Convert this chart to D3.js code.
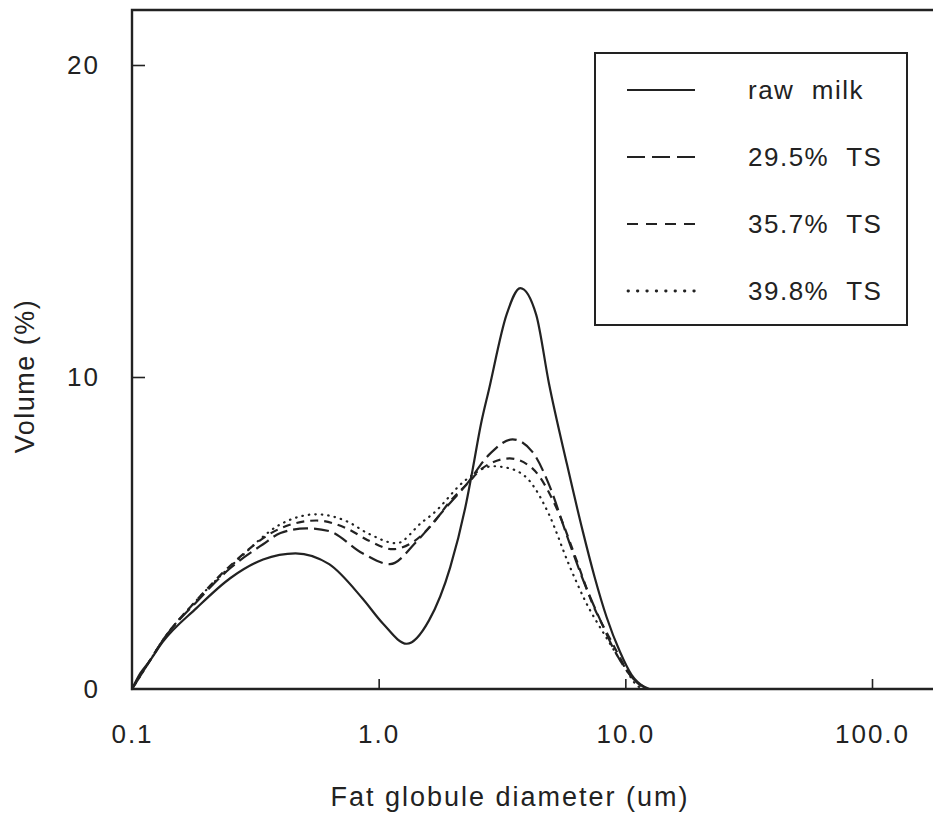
<!DOCTYPE html>
<html lang="en">
<head>
  <meta charset="UTF-8">
  <title>Fat globule size distribution</title>
  <style>
    body {
      margin: 0;
      padding: 0;
      background: #fff;
    }

    svg text {
      font-family: "Liberation Sans", Arial, sans-serif;
      fill: #222;
    }

    .axis text {
      font-size: 26px;
      letter-spacing: 2px;
    }

    .axis line {
      stroke: #222;
      stroke-width: 1.6;
    }

    .frame {
      stroke: #222;
      stroke-width: 2.4;
      fill: none;
    }

    .curve {
      fill: none;
      stroke: #222;
      stroke-width: 2.2;
    }

    .legend text {
      font-size: 26px;
      letter-spacing: 1.5px;
    }
  </style>
</head>
<body>
  <svg id="chart" width="933" height="817"></svg>

  <script src="https://d3js.org/d3.v7.min.js"></script>
  <script>
    // Valores (diâmetro em um, volume em %)
    const rawDiam = [0.1, 0.108, 0.118, 0.133, 0.183, 0.25, 0.34, 0.46, 0.63, 0.86, 1.04, 1.3, 1.6, 1.95, 2.27, 2.4, 2.6, 2.8, 3.3, 3.75, 4.35, 4.9, 5.8, 6.7, 7.5, 8.4, 9.5, 10.6, 12.2];
    const rawVol = [0, 0.5, 0.9, 1.5, 2.6, 3.55, 4.15, 4.35, 4.0, 2.9, 2.1, 1.45, 2.2, 3.9, 6.0, 7.0, 8.5, 9.6, 12.0, 12.85, 12.0, 9.8, 7.2, 5.1, 3.6, 2.3, 1.2, 0.45, 0];

    const ts295Diam = [0.1, 0.118, 0.133, 0.183, 0.25, 0.34, 0.4, 0.51, 0.63, 0.86, 1.11, 1.43, 1.82, 2.27, 2.81, 3.49, 4.2, 4.9, 5.77, 6.7, 7.85, 9.2, 10.7, 12.5];
    const ts295Vol = [0, 0.9, 1.55, 2.8, 3.87, 4.64, 5.0, 5.15, 5.06, 4.35, 4.0, 4.74, 5.7, 6.56, 7.52, 8.0, 7.6, 6.56, 4.96, 3.55, 2.27, 1.12, 0.35, 0];

    const ts357Diam = [0.1, 0.118, 0.133, 0.183, 0.25, 0.4, 0.56, 0.74, 0.92, 1.14, 1.4, 1.65, 1.94, 2.3, 2.63, 3.4, 4.2, 5.26, 6.3, 7.3, 8.9, 10.4, 12.0];
    const ts357Vol = [0, 0.9, 1.55, 2.85, 3.95, 5.15, 5.4, 5.15, 4.74, 4.48, 4.75, 5.28, 6.0, 6.6, 7.07, 7.39, 7.07, 5.8, 4.19, 2.8, 1.44, 0.48, 0];

    const ts398Diam = [0.1, 0.118, 0.133, 0.183, 0.27, 0.4, 0.56, 0.74, 0.92, 1.18, 1.5, 1.65, 2.27, 2.9, 3.4, 4.1, 4.9, 5.9, 6.9, 8.4, 10.0, 11.0, 11.8];
    const ts398Vol = [0, 0.9, 1.55, 2.85, 4.16, 5.28, 5.6, 5.38, 4.96, 4.67, 5.35, 5.6, 6.72, 7.14, 7.07, 6.66, 5.6, 4.0, 2.8, 1.63, 0.67, 0.16, 0];

    const seriesNames = ["raw milk", "29.5% TS", "35.7% TS", "39.8% TS"];
    const xTicks = [0.1, 1, 10, 100];
    const yTicks = [0, 10, 20];

    const series = [
      { name: seriesNames[0], diam: rawDiam, vol: rawVol, dash: null, legendDash: null, cap: "butt" },
      { name: seriesNames[1], diam: ts295Diam, vol: ts295Vol, dash: "15,6", legendDash: "18,7", cap: "butt" },
      { name: seriesNames[2], diam: ts357Diam, vol: ts357Vol, dash: "8,6", legendDash: "11,8", cap: "butt" },
      { name: seriesNames[3], diam: ts398Diam, vol: ts398Vol, dash: "0.5,6", legendDash: "0.5,8.9", cap: "round" }
    ];

    const svg = d3.select("#chart");

    // Escalas
    const x = d3.scaleLog().domain([0.1, 100]).range([132, 872]);
    const y = d3.scaleLinear().domain([0, 20]).range([689, 65]);
    const frameTop = 10;

    // Moldura (lado direito fora da imagem)
    svg.append("path")
      .attr("class", "frame")
      .attr("d", `M945,${frameTop}H132V${y(0)}H945`);

    // Eixo x
    svg.append("g")
      .attr("class", "axis")
      .attr("transform", `translate(0,${y(0)})`)
      .call(d3.axisBottom(x)
        .tickValues(xTicks)
        .tickSize(-10)
        .tickPadding(36)
        .tickFormat(d3.format(".1f")))
      .call(g => g.select(".domain").remove())
      .call(g => g.selectAll(".tick line").filter(d => d === 0.1).remove());

    // Eixo y
    svg.append("g")
      .attr("class", "axis")
      .attr("transform", "translate(132,0)")
      .call(d3.axisLeft(y)
        .tickValues(yTicks)
        .tickSize(-13)
        .tickPadding(32)
        .tickFormat(d3.format("d")))
      .call(g => g.select(".domain").remove())
      .call(g => g.selectAll(".tick line").filter(d => d === 0).remove());

    // Títulos dos eixos
    svg.append("text")
      .attr("x", 510)
      .attr("y", 806)
      .attr("text-anchor", "middle")
      .style("font-size", "27px")
      .style("letter-spacing", "2px")
      .text("Fat globule diameter (um)");

    svg.append("text")
      .attr("transform", "translate(34,376) rotate(-90)")
      .attr("text-anchor", "middle")
      .style("font-size", "27px")
      .style("letter-spacing", "1.5px")
      .text("Volume (%)");

    // Curvas
    const line = d3.line()
      .x(d => x(d[0]))
      .y(d => y(d[1]))
      .curve(d3.curveMonotoneX);

    svg.selectAll("path.curve")
      .data(series)
      .enter()
      .append("path")
      .attr("class", "curve")
      .attr("stroke-dasharray", d => d.dash)
      .attr("stroke-linecap", d => d.cap)
      .attr("stroke-width", d => d.cap === "round" ? 2.8 : null)
      .attr("d", d => line(d3.zip(d.diam, d.vol)));

    // Legenda
    const legend = svg.append("g").attr("class", "legend");

    legend.append("rect")
      .attr("x", 595)
      .attr("y", 53)
      .attr("width", 312)
      .attr("height", 272)
      .attr("fill", "#fff")
      .attr("stroke", "#222")
      .attr("stroke-width", 2);

    const rows = legend.selectAll("g.row")
      .data(series)
      .enter()
      .append("g")
      .attr("class", "row")
      .attr("transform", (d, i) => `translate(0,${90 + i * 67})`);

    rows.append("line")
      .attr("x1", d => d.cap === "round" ? 628 : 627)
      .attr("x2", 695)
      .attr("stroke", "#222")
      .attr("stroke-width", d => d.cap === "round" ? 2.8 : 2.2)
      .attr("stroke-linecap", d => d.cap)
      .attr("stroke-dasharray", d => d.legendDash);

    rows.append("text")
      .attr("x", 748)
      .attr("dy", "0.36em")
      .text(d => d.name.replace(" ", "\u00a0 "));
  </script>
</body>
</html>
